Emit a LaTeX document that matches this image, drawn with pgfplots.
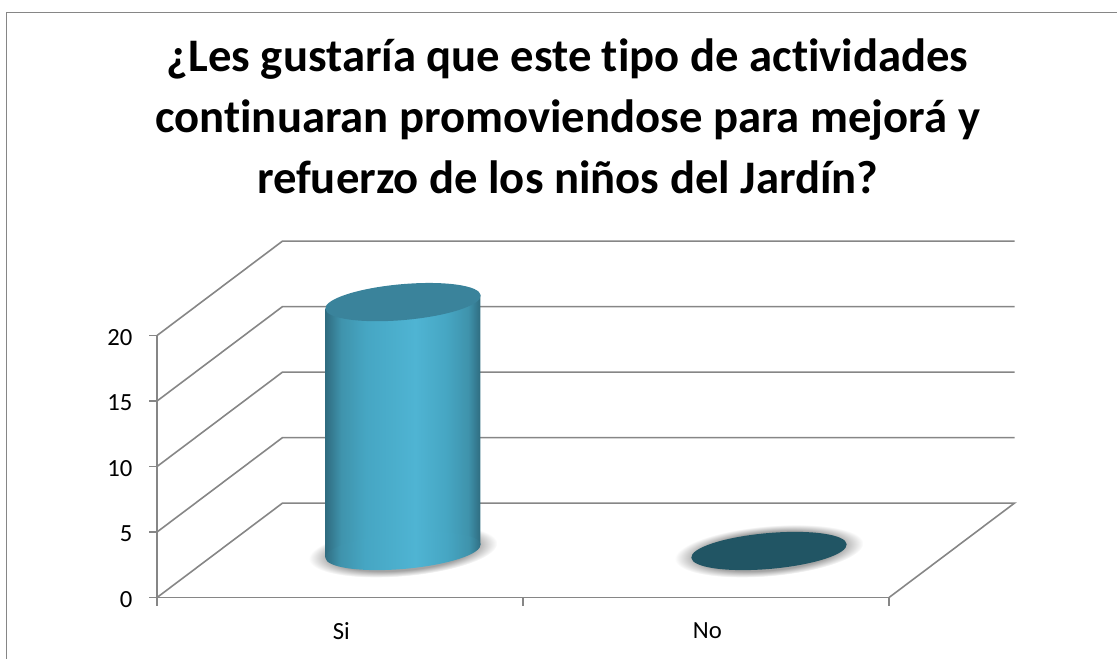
\documentclass[border=0pt]{standalone}
\usepackage{fontspec}
\setmainfont{Carlito}[Ligatures=NoCommon]
\usepackage{pgfplots}
\pgfplotsset{compat=1.18}

\definecolor{gridgray}{HTML}{868686}
\definecolor{topblue}{HTML}{3A839B}
\definecolor{topdark}{HTML}{215564}
\definecolor{cylA}{HTML}{2F6C80}
\definecolor{cylB}{HTML}{3F93AC}
\definecolor{cylC}{HTML}{4FB4D3}
\definecolor{cylD}{HTML}{46A6C3}
\definecolor{glow}{HTML}{A4A4A4}

\pgfdeclarehorizontalshading{cylshade}{100bp}{
  color(0bp)=(cylA); color(25bp)=(cylA); color(30bp)=(cylB); color(38bp)=(cylD);
  color(54bp)=(cylC); color(64bp)=(cylD); color(71bp)=(cylB); color(75bp)=(cylA); color(100bp)=(cylA)}
\pgfdeclareradialshading{glowshade}{\pgfpointorigin}{
  color(0bp)=(glow); color(19bp)=(glow); color(25bp)=(white); color(50bp)=(white)}

% tilted ellipses for the cylinder caps, 1px = 0.75pt
\pgfdeclareplotmark{capfill}{%
  \pgfpathellipse{\pgfpointorigin}{\pgfpoint{58.3pt}{5.1pt}}{\pgfpoint{-1.18pt}{13.4pt}}%
  \pgfusepathqfill}
\pgfdeclareplotmark{capshade}{%
  \pgfpathellipse{\pgfpointorigin}{\pgfpoint{58.3pt}{5.1pt}}{\pgfpoint{-1.18pt}{13.4pt}}%
  \pgfshadepath{cylshade}{0}\pgfusepath{discard}}
\pgfdeclareplotmark{capglow}{%
  \pgfscope
  \pgflowlevelsynccm\pgflowlevel{\pgftransformrotate{5}}%
  \pgfpathellipse{\pgfpointorigin}{\pgfpoint{71pt}{0pt}}{\pgfpoint{0pt}{19pt}}%
  \pgfshadepath{glowshade}{0}\pgfusepath{discard}%
  \endpgfscope}

\begin{document}
\begin{tikzpicture}
\draw[gridgray,line width=1.4pt] (4.9pt,0pt) -- (4.9pt,484.9pt) -- (837.75pt,484.9pt);
\begin{axis}[
    at={(117.75pt,46.1pt)},
    anchor=south west,
    scale only axis,
    width=549pt,
    height=196.5pt,
    xmin=-0.5, xmax=1.5,
    ymin=0, ymax=20,
    clip=false,
    clip marker paths=true,
    clip mode=individual,
    axis lines=left,
    axis line style={-,gridgray,line width=1.2pt},
    tick style={gridgray,line width=1.2pt},
    tick align=outside,
    major tick length=6pt,
    xtick={-0.5,0.5,1.5},
    xticklabels={Si,No},
    x tick label as interval,
    ytick={0,5,10,15,20},
    ticklabel style={font=\fontsize{18.5}{20}\selectfont},
    xticklabel style={xshift=1pt,yshift=-9.5pt},
    yticklabel style={xshift=-9pt,yshift=-1.2pt},
    /pgf/number format/assume math mode=true,
    title={¿Les gustaría que este tipo de actividades\\continuaran promoviendose para mejorá y\\refuerzo de los niños del Jardín?},
    title style={at={(0.5,1)},anchor=south,yshift=97pt,xshift=33.5pt,align=center,
      font=\fontsize{35}{45.75}\selectfont\bfseries},
]
% floor and walls: each level runs back by the depth, then across
\addplot[gridgray,line width=1.2pt] coordinates {(-0.5,0) (-0.157,7.21) (1.843,7.21) (1.5,0)};
\addplot[gridgray,line width=1.2pt] coordinates {(-0.5,5) (-0.157,12.21) (1.843,12.21)};
\addplot[gridgray,line width=1.2pt] coordinates {(-0.5,10) (-0.157,17.21) (1.843,17.21)};
\addplot[gridgray,line width=1.2pt] coordinates {(-0.5,15) (-0.157,22.21) (1.843,22.21)};
\addplot[gridgray,line width=1.2pt] coordinates {(-0.5,20) (-0.157,27.21) (1.843,27.21)};
% shadows
\addplot[only marks,mark=capglow,xshift=47.25pt,yshift=34.9pt] coordinates {(0,0) (1,0)};
% Si cylinder, value 19 at its centre, the rim tilts a little
\addplot[draw=none,shading=cylshade,xshift=47.25pt,yshift=34.9pt]
  coordinates {(-0.2117,-0.5) (0.2117,0.5) (0.2117,19.5) (-0.2117,18.5)} -- cycle;
\addplot[only marks,mark=capshade,xshift=47.25pt,yshift=34.9pt] coordinates {(0,0)};
\addplot[only marks,mark=capfill,color=topblue,xshift=47.25pt,yshift=34.9pt] coordinates {(0,19)};
% No is a flat disc
\addplot[only marks,mark=capfill,color=topdark,xshift=47.25pt,yshift=34.9pt] coordinates {(1,0)};
\end{axis}
\pgfresetboundingbox
\useasboundingbox (0,0) rectangle (837.75pt,494.25pt);
\end{tikzpicture}
\end{document}
